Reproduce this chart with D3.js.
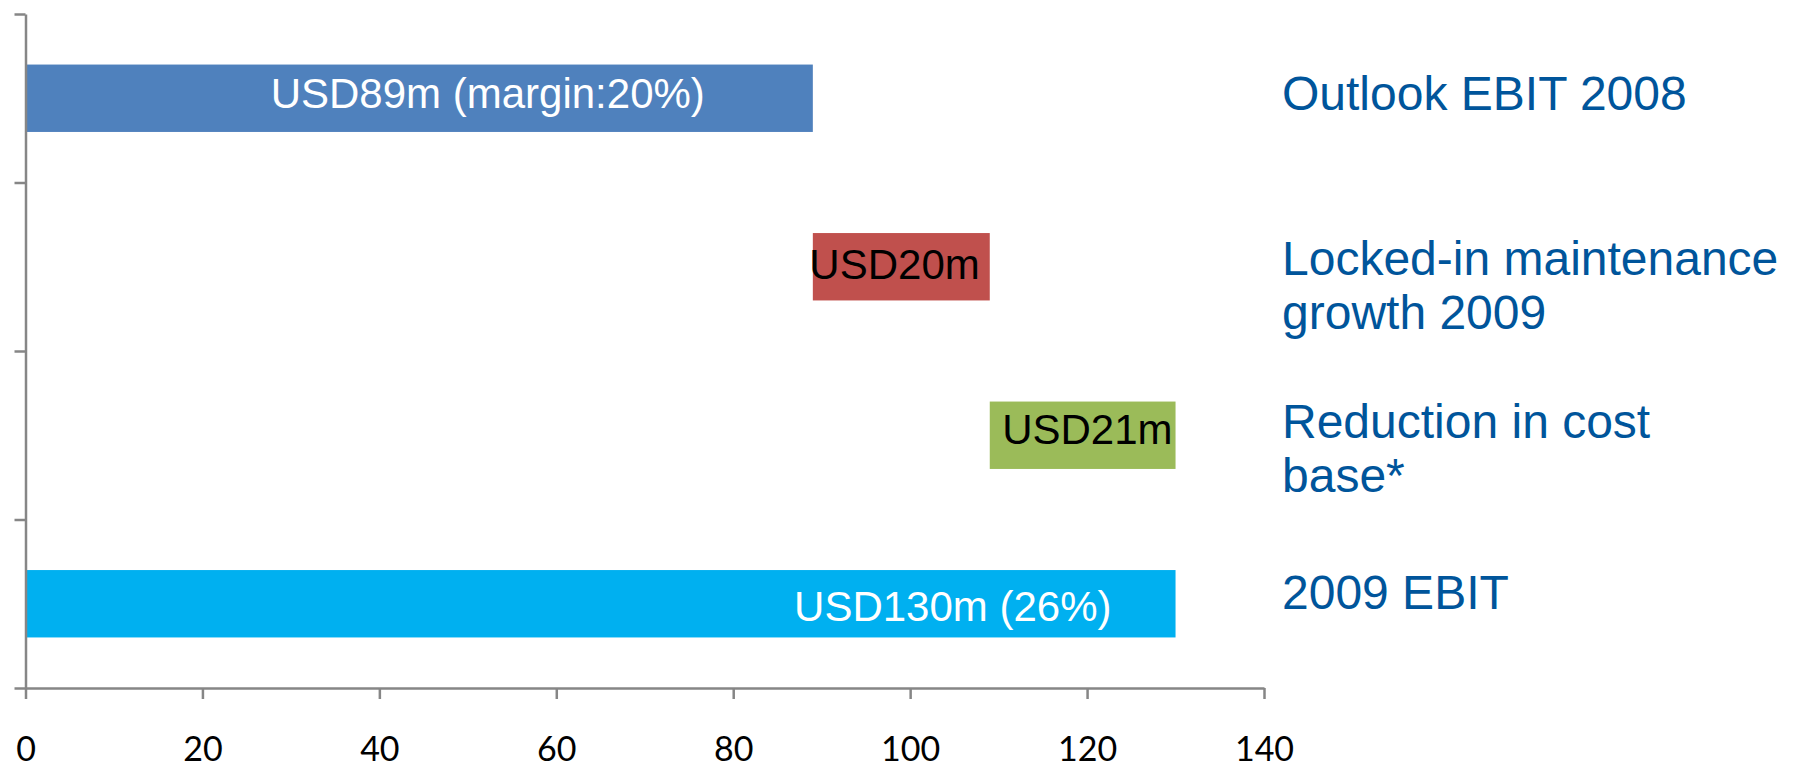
<!DOCTYPE html>
<html>
<head>
<meta charset="utf-8">
<script src="https://cdn.jsdelivr.net/npm/d3@7/dist/d3.min.js"></script>
<style>
  html, body { margin: 0; padding: 0; background: #ffffff; }
  svg { display: block; }
</style>
</head>
<body>
<svg id="chart" width="1798" height="767"></svg>
<script>
// ---- data ----
const categories = ["Outlook EBIT 2008", "Locked-in maintenance growth 2009", "Reduction in cost base*", "2009 EBIT"];
const categoryLines = [["Outlook EBIT 2008"], ["Locked-in maintenance", "growth 2009"], ["Reduction in cost", "base*"], ["2009 EBIT"]];
const values = [89, 20, 21, 130];
const barKinds = ["total", "delta", "delta", "total"];
const valueLabels = ["USD89m (margin:20%)", "USD20m", "USD21m", "USD130m (26%)"];
const barColors = ["#4F81BD", "#C0504D", "#9BBB59", "#00B0F0"];
const labelColors = ["#ffffff", "#000000", "#000000", "#ffffff"];
const xTickValues = [0, 20, 40, 60, 80, 100, 120, 140];

// ---- build waterfall segments ----
let running = 0;
const bars = categories.map((c, i) => {
  let start, end;
  if (barKinds[i] === "total") { start = 0; end = values[i]; running = values[i]; }
  else { start = running; end = running + values[i]; running = end; }
  return { cat: c, start, end, i };
});

// ---- layout ----
const svg = d3.select("#chart");
const axisColor = "#868686";
const x = d3.scaleLinear().domain([0, 140]).range([25.5, 1264]);
const y = d3.scaleBand().domain(categories).range([14, 688]).paddingInner(0.6).paddingOuter(0.3);

// bars
svg.append("g").selectAll("rect").data(bars).join("rect")
  .attr("x", d => x(d.start))
  .attr("y", d => y(d.cat))
  .attr("width", d => x(d.end) - x(d.start))
  .attr("height", y.bandwidth())
  .attr("fill", d => barColors[d.i]);

// value labels inside bars
const labelDx = [-108, -10, -3, -64];
const labelDy = [-5, -3, -6, 2];
svg.append("g").selectAll("text").data(bars).join("text")
  .attr("x", d => x(d.end) + labelDx[d.i])
  .attr("y", d => y(d.cat) + y.bandwidth() / 2 + 15 + labelDy[d.i])
  .attr("text-anchor", "end")
  .attr("font-family", "'Liberation Sans', Arial, sans-serif")
  .attr("font-size", 42)
  .attr("fill", d => labelColors[d.i])
  .text(d => valueLabels[d.i]);

// y axis (ticks at band boundaries)
const boundaries = d3.range(categories.length + 1);
const yb = d3.scaleLinear().domain([0, categories.length]).range([14, 688]);
const yAxis = svg.append("g").attr("transform", "translate(25.5,0)")
  .call(d3.axisLeft(yb).tickValues(boundaries).tickSize(11).tickSizeOuter(0).tickFormat(""));
yAxis.selectAll("path, line").attr("stroke", axisColor).attr("stroke-width", 2.5);

// x axis
const xAxis = svg.append("g").attr("transform", "translate(0,688)")
  .call(d3.axisBottom(x).tickValues(xTickValues).tickSize(11).tickSizeOuter(0));
xAxis.selectAll("path, line").attr("stroke", axisColor).attr("stroke-width", 2.5);
xAxis.selectAll("text")
  .attr("y", 73).attr("dy", 0)
  .attr("font-family", "Lato, 'Open Sans', sans-serif")
  .attr("font-size", 34)
  .attr("fill", "#000000");

// category labels on the right
const catOffsets = [12, 8, 3, 5];
const lineHeight = 54;
const catG = svg.append("g");
categories.forEach((c, i) => {
  const t = catG.append("text")
    .attr("x", 1282)
    .attr("y", y(c) + y.bandwidth() / 2 + catOffsets[i])
    .attr("font-family", "'Liberation Sans', Arial, sans-serif")
    .attr("font-size", 48)
    .attr("fill", "#00559B");
  categoryLines[i].forEach((ln, k) => {
    t.append("tspan").attr("x", 1282).attr("dy", k === 0 ? 0 : lineHeight).text(ln);
  });
});
</script>
</body>
</html>
